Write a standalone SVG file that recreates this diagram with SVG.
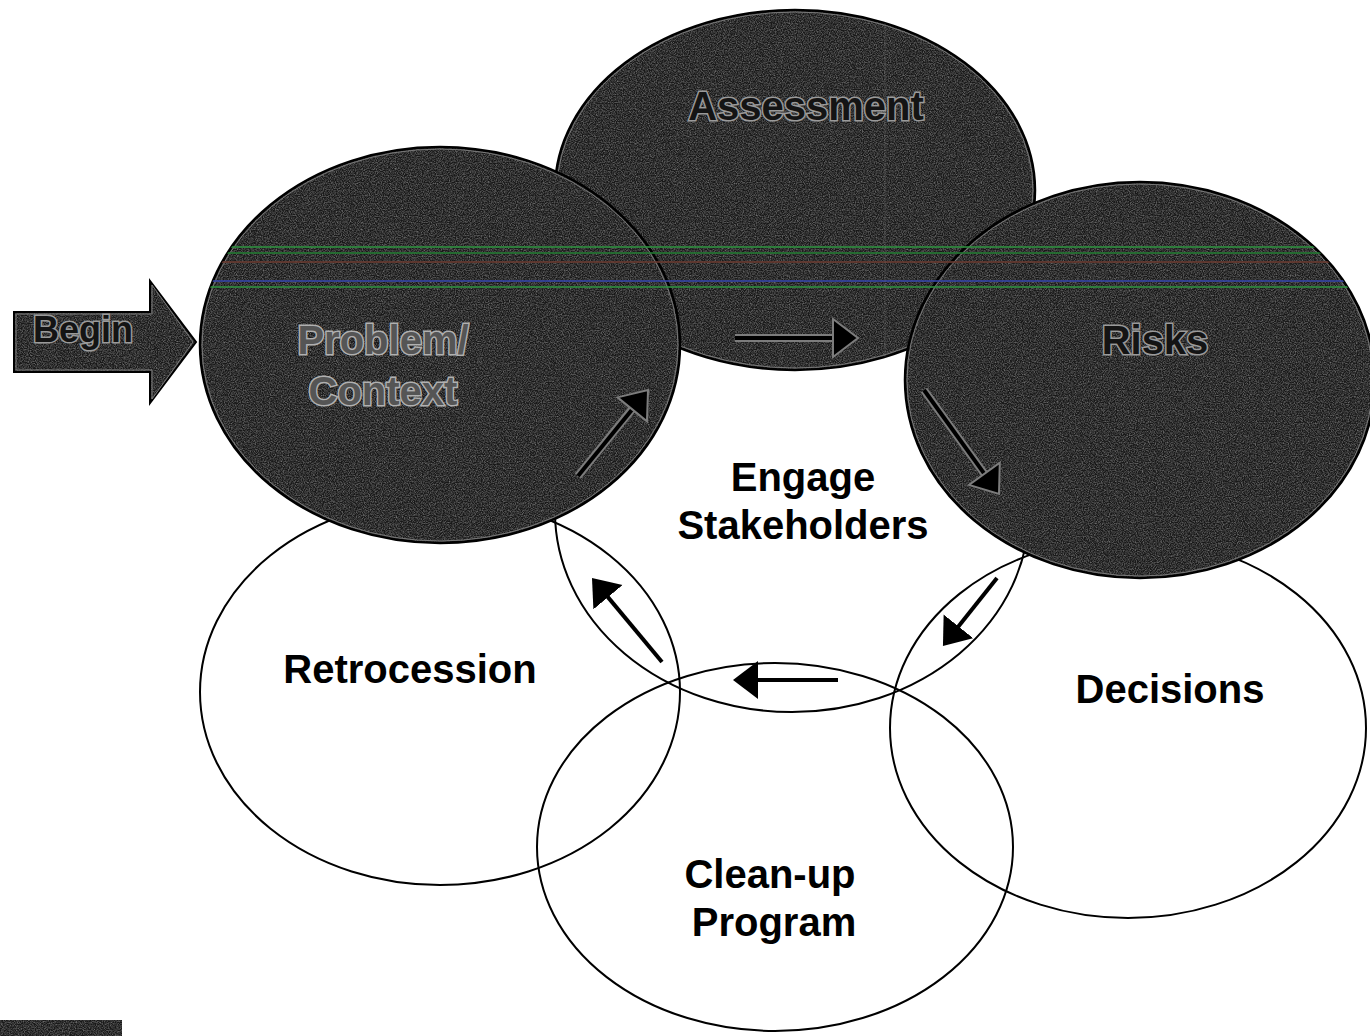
<svg xmlns="http://www.w3.org/2000/svg" width="1370" height="1036" viewBox="0 0 1370 1036">
<style>
.ol{fill:none;stroke:#000;stroke-width:2}
.dk{fill:#181818}
.dke{fill:none;stroke:#000;stroke-width:2.5}
.dki{fill:none;stroke:#7a7a7a;stroke-width:1}
.lbl{font-family:"Liberation Sans",Arial,sans-serif;font-weight:bold;font-size:40px;text-anchor:middle;fill:#000}
.dlbl{font-family:"Liberation Sans",Arial,sans-serif;font-weight:bold;font-size:40px;text-anchor:middle;fill:#141414;stroke:#9a9a9a;stroke-width:3;paint-order:stroke}
.glbl{font-family:"Liberation Sans",Arial,sans-serif;font-weight:bold;font-size:40px;text-anchor:middle;fill:#555;stroke:#b0b0b0;stroke-width:3;paint-order:stroke}
.ln{fill:none;stroke:#000;stroke-width:4}
.lnh{fill:none;stroke:#7c7c7c;stroke-width:8}
.scan{fill:none;stroke-width:2}
</style>
<defs>
<filter id="grain" x="-5%" y="-5%" width="110%" height="110%" color-interpolation-filters="sRGB">
<feTurbulence type="fractalNoise" baseFrequency="0.85" numOctaves="2" seed="7" result="n"/>
<feColorMatrix in="n" type="matrix" values="0 0 0 0 0.5  0 0 0 0 0.5  0 0 0 0 0.5  1.6 0 0 0 -0.55" result="g"/>
<feComposite in="g" in2="SourceAlpha" operator="in" result="gi"/>
<feMerge><feMergeNode in="SourceGraphic"/><feMergeNode in="gi"/></feMerge>
</filter>
<marker id="ah" markerUnits="userSpaceOnUse" markerWidth="30" markerHeight="40" refX="5" refY="19" orient="auto">
<path d="M0,0 L25,19 L0,38 z" fill="#000"/>
</marker>
<marker id="ahd" markerUnits="userSpaceOnUse" markerWidth="34" markerHeight="44" refX="7" refY="21" orient="auto">
<path d="M2,2 L27,21 L2,40 z" fill="#000" stroke="#7c7c7c" stroke-width="2"/>
</marker>
<clipPath id="darkclip">
<ellipse cx="795" cy="190" rx="240" ry="180"/>
<ellipse cx="440" cy="345" rx="240" ry="198"/>
<ellipse cx="1140" cy="380" rx="235" ry="198"/>
</clipPath>
</defs>
<rect width="1370" height="1036" fill="#fff"/>

<g id="node-engage">
<ellipse class="ol" cx="792" cy="512" rx="237" ry="200"/>
<text class="lbl" x="803" y="491">Engage</text>
<text class="lbl" x="803" y="539">Stakeholders</text>
</g>
<g id="node-retrocession">
<ellipse class="ol" cx="440" cy="692" rx="240" ry="193"/>
<text class="lbl" x="410" y="683">Retrocession</text>
</g>
<g id="node-cleanup">
<ellipse class="ol" cx="775" cy="847" rx="238" ry="184"/>
<text class="lbl" x="770" y="888">Clean-up</text>
<text class="lbl" x="774" y="936">Program</text>
</g>
<g id="node-decisions">
<ellipse class="ol" cx="1128" cy="728" rx="238" ry="190"/>
<text class="lbl" x="1170" y="703">Decisions</text>
</g>

<g id="node-assessment">
<ellipse class="dk" cx="795" cy="190" rx="240" ry="180" filter="url(#grain)"/>
<ellipse class="dke" cx="795" cy="190" rx="240" ry="180"/>
<ellipse class="dki" cx="795" cy="190" rx="238" ry="178"/>
<text class="dlbl" x="806" y="120">Assessment</text>
</g>
<g id="node-problem">
<ellipse class="dk" cx="440" cy="345" rx="240" ry="198" filter="url(#grain)"/>
<ellipse class="dke" cx="440" cy="345" rx="240" ry="198"/>
<ellipse class="dki" cx="440" cy="345" rx="238" ry="196"/>
<text class="glbl" x="383" y="354">Problem/</text>
<text class="glbl" x="383" y="405">Context</text>
</g>
<g id="node-risks">
<ellipse class="dk" cx="1140" cy="380" rx="235" ry="198" filter="url(#grain)"/>
<ellipse class="dke" cx="1140" cy="380" rx="235" ry="198"/>
<ellipse class="dki" cx="1140" cy="380" rx="233" ry="196"/>
<text class="dlbl" x="1155" y="354">Risks</text>
</g>

<g id="scanlines" clip-path="url(#darkclip)" opacity="0.8">
<line class="scan" x1="0" y1="247" x2="1370" y2="247" stroke="#2f8f3f" stroke-width="3"/>
<line class="scan" x1="0" y1="253" x2="1370" y2="253" stroke="#247a33" stroke-width="1.5"/>
<line class="scan" x1="0" y1="262" x2="1370" y2="262" stroke="#6a3a30" stroke-width="1"/>
<line class="scan" x1="0" y1="281" x2="1370" y2="281" stroke="#3545a8" stroke-width="2.5"/>
<line class="scan" x1="0" y1="287" x2="1370" y2="287" stroke="#2f8f3f" stroke-width="1"/>
<line class="scan" x1="885" y1="0" x2="885" y2="370" stroke="#9a9a9a" stroke-width="1.5" opacity="0.15"/>
</g>

<g id="node-begin">
<polygon points="14,312 150,312 150,281 196,342 150,403 150,372 14,372" class="dk" filter="url(#grain)"/>
<polygon points="14,312 150,312 150,281 196,342 150,403 150,372 14,372" fill="none" stroke="#000" stroke-width="2"/>
<polygon points="16,314 152,314 152,285 193,342 152,399 152,370 16,370" fill="none" stroke="#7a7a7a" stroke-width="1"/>
<text class="dlbl" x="83" y="342" style="font-size:36px">Begin</text>
</g>

<g id="logo">
<rect x="0" y="1020" width="122" height="16" class="dk" filter="url(#grain)"/>
</g>

<g id="connectors">
<line class="lnh" x1="735" y1="338" x2="836" y2="338"/>
<line class="ln" x1="735" y1="338" x2="838" y2="338" marker-end="url(#ahd)"/>
<line class="lnh" x1="578" y1="476" x2="633" y2="408"/>
<line class="ln" x1="578" y1="476" x2="635.4" y2="405.5" marker-end="url(#ahd)"/>
<line class="lnh" x1="924" y1="390" x2="986" y2="476"/>
<line class="ln" x1="924" y1="390" x2="987.3" y2="477.8" marker-end="url(#ahd)"/>
<line class="ln" x1="997" y1="578" x2="955.4" y2="630.3" marker-end="url(#ah)"/>
<line class="ln" x1="838" y1="680" x2="753" y2="680" marker-end="url(#ah)"/>
<line class="ln" x1="662" y1="662" x2="604.8" y2="593.4" marker-end="url(#ah)"/>
</g>
</svg>
